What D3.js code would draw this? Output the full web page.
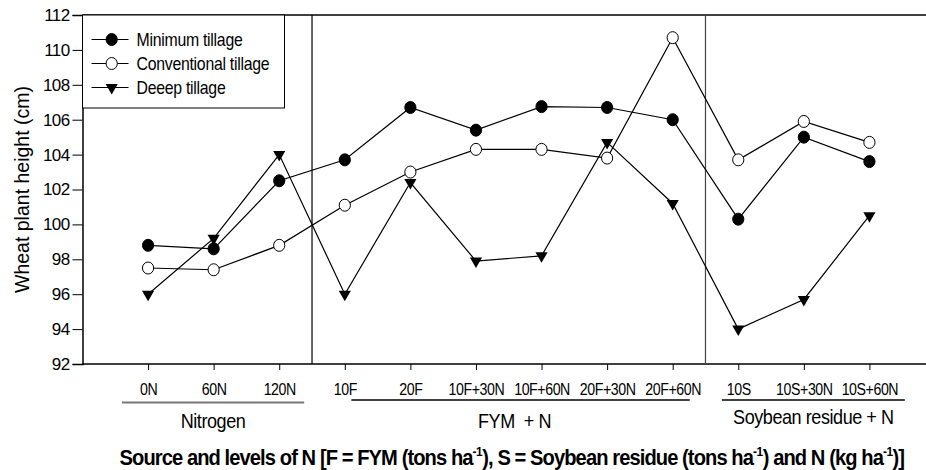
<!DOCTYPE html>
<html>
  <head>
    <meta charset="utf-8">
    <script src="https://cdn.jsdelivr.net/npm/d3@7"></script>
    <style>
      body { margin: 0; background: #fff; }
      text { font-family: "Liberation Sans", Arial, sans-serif; fill: #000; }
    </style>
  </head>

<body>

  <div id="chart"></div>

  <script type="text/javascript">

      // DATA
      var categories = ["0N", "60N", "120N", "10F", "20F", "10F+30N", "10F+60N",
                        "20F+30N", "20F+60N", "10S", "10S+30N", "10S+60N"];
      var minimumTillage      = [98.8, 98.6, 102.5, 103.7, 106.7, 105.4, 106.75, 106.7, 106.0, 100.3, 105.0, 103.6];
      var conventionalTillage = [97.5, 97.4, 98.8, 101.1, 103.0, 104.3, 104.3, 103.8, 110.7, 103.7, 105.9, 104.7];
      var deepTillage         = [96.0, 99.2, 104.0, 96.0, 102.4, 97.9, 98.2, 104.7, 101.2, 94.0, 95.7, 100.5];
      var seriesNames = ["Minimum tillage", "Conventional tillage", "Deeep tillage"];
      var yTicks = [92, 94, 96, 98, 100, 102, 104, 106, 108, 110, 112];
      var groupNames = ["Nitrogen", "FYM  + N", "Soybean residue + N"];

      // LAYOUT (index units for group underlines and dividers)
      var groupSpans = [[-0.4, 2.38], [3.1, 8.26], [8.75, 11.54]];
      var dividers = [2.5, 8.5];

      var W = 926, H = 470;
      var plotLeft = 82.5, plotTop = 15, plotBottom = 364;

      var svg = d3.select("#chart").append("svg")
          .attr("width", W)
          .attr("height", H);

      var x = d3.scaleLinear().domain([-1, 12]).range([plotLeft, 935]);
      var y = d3.scaleLinear().domain([92, 112]).range([plotBottom, plotTop]);

      // Y AXIS
      var yAxis = svg.append("g")
          .attr("transform", "translate(" + plotLeft + ",0)")
          .call(d3.axisLeft(y).tickValues(yTicks).tickSize(10).tickPadding(3).tickFormat(d3.format("d")));
      yAxis.select(".domain").attr("stroke-width", 1.5);
      yAxis.selectAll("text")
          .style("font-size", "17px")
          .style("letter-spacing", "-0.6px")
          .style("font-family", "'Liberation Sans', Arial, sans-serif");

      // X AXIS
      var xAxis = svg.append("g")
          .attr("transform", "translate(0," + plotBottom + ")")
          .call(d3.axisBottom(x).tickValues(d3.range(categories.length)).tickSize(6).tickPadding(13)
                .tickFormat(function (d) { return categories[d]; }));
      xAxis.select(".domain").attr("d", "M" + plotLeft + ",0H" + W).attr("stroke-width", 1.5);
      xAxis.selectAll("text")
          .attr("transform", "scale(0.86,1)")
          .style("font-size", "16.5px")
          .style("letter-spacing", "-0.5px")
          .style("font-family", "'Liberation Sans', Arial, sans-serif");

      // TOP BORDER
      svg.append("line")
          .attr("x1", plotLeft).attr("x2", W)
          .attr("y1", plotTop).attr("y2", plotTop)
          .style("stroke", "black")
          .style("stroke-width", 1.5);

      // GROUP DIVIDERS
      svg.selectAll(".divider")
          .data(dividers)
          .enter()
          .append("line")
          .attr("x1", function (d) { return x(d); })
          .attr("x2", function (d) { return x(d); })
          .attr("y1", plotTop)
          .attr("y2", plotBottom)
          .style("stroke", function (d, i) { return i === 0 ? "#000" : "#444"; })
          .style("stroke-width", 1.2);

      // SERIES
      var series = [minimumTillage, conventionalTillage, deepTillage];
      var line = d3.line()
          .x(function (d, i) { return x(i); })
          .y(function (d) { return y(d); });

      series.forEach(function (values) {
        svg.append("path")
            .datum(values)
            .attr("d", line)
            .style("fill", "none")
            .style("stroke", "black")
            .style("stroke-width", 1.2);
      });

      function drawMarker(g, k, cx, cy) {
        if (k === 2) {
          g.append("path")
              .attr("d", d3.symbol(d3.symbolTriangle).size(64)())
              .attr("transform", "translate(" + cx + "," + cy + ") rotate(180)")
              .style("fill", "black");
        } else {
          g.append("ellipse")
              .attr("cx", cx).attr("cy", cy)
              .attr("rx", 5.6).attr("ry", 6)
              .style("fill", k === 0 ? "black" : "white")
              .style("stroke", "black")
              .style("stroke-width", 1);
        }
      }

      var marks = svg.append("g");
      series.forEach(function (values, k) {
        values.forEach(function (v, i) { drawMarker(marks, k, x(i), y(v)); });
      });

      // LEGEND
      var legend = svg.append("g");
      legend.append("rect")
          .attr("x", plotLeft).attr("y", plotTop)
          .attr("width", 202).attr("height", 93)
          .style("fill", "white")
          .style("stroke", "black")
          .style("stroke-width", 1);
      seriesNames.forEach(function (name, k) {
        var ly = 39.5 + k * 24;
        legend.append("line")
            .attr("x1", 91.5).attr("x2", 128.5)
            .attr("y1", ly).attr("y2", ly)
            .style("stroke", "black")
            .style("stroke-width", 1.2);
        drawMarker(legend, k, 111.7, ly);
        legend.append("text")
            .attr("transform", "translate(136.5," + (ly + 6.5) + ") scale(0.88,1)")
            .style("font-size", "18px")
            .style("letter-spacing", "-0.3px")
            .text(name);
      });

      // Y AXIS TITLE
      svg.append("text")
          .attr("transform", "translate(29," + ((plotTop + plotBottom) / 2) + ") rotate(-90)")
          .style("text-anchor", "middle")
          .style("font-size", "19.5px")
          .text("Wheat plant height (cm)");

      // GROUP UNDERLINES AND LABELS
      groupSpans.forEach(function (s, i) {
        svg.append("line")
            .attr("x1", x(s[0])).attr("x2", x(s[1]))
            .attr("y1", i === 0 ? 402.5 : 400).attr("y2", i === 0 ? 402.5 : 400)
            .style("stroke", i === 0 ? "#777" : "black")
            .style("stroke-width", i === 0 ? 2 : 1.3);
        var cx = (x(s[0]) + x(s[1])) / 2 - (i === 1 ? 6 : 0);
        svg.append("text")
            .attr("transform", "translate(" + cx + "," + (i === 2 ? 423.5 : 427.5) + ") scale(0.88,1)")
            .attr("xml:space", "preserve")
            .style("text-anchor", "middle")
            .style("font-size", "20.5px")
            .style("letter-spacing", "-0.5px")
            .text(groupNames[i]);
      });

      // X AXIS TITLE (with superscripts)
      var title = svg.append("text")
          .attr("x", 0)
          .attr("y", 0)
          .style("font-size", "22px")
          .style("font-weight", "bold")
          .style("letter-spacing", "-1px");
      var parts = [
        ["Source and levels of N [F = FYM (tons ha", false], ["-1", true],
        ["), S = Soybean residue (tons ha", false], ["-1", true],
        [") and N (kg ha", false], ["-1", true], [")]", false]
      ];
      parts.forEach(function (p) {
        title.append("tspan")
            .attr("dy", p[1] ? -9 : (title.selectAll("tspan").size() > 0 ? 9 : 0))
            .style("font-size", p[1] ? "13px" : "22px")
            .style("letter-spacing", p[1] ? "-0.5px" : "-1px")
            .text(p[0]);
      });
      var tw = title.node().getComputedTextLength();
      var targetW = 785, sx = Math.min(1, targetW / tw);
      title.attr("transform", "translate(" + (512 - targetW / 2) + ",456) scale(" + sx + ",1)");

  </script>

</body>
</html>
